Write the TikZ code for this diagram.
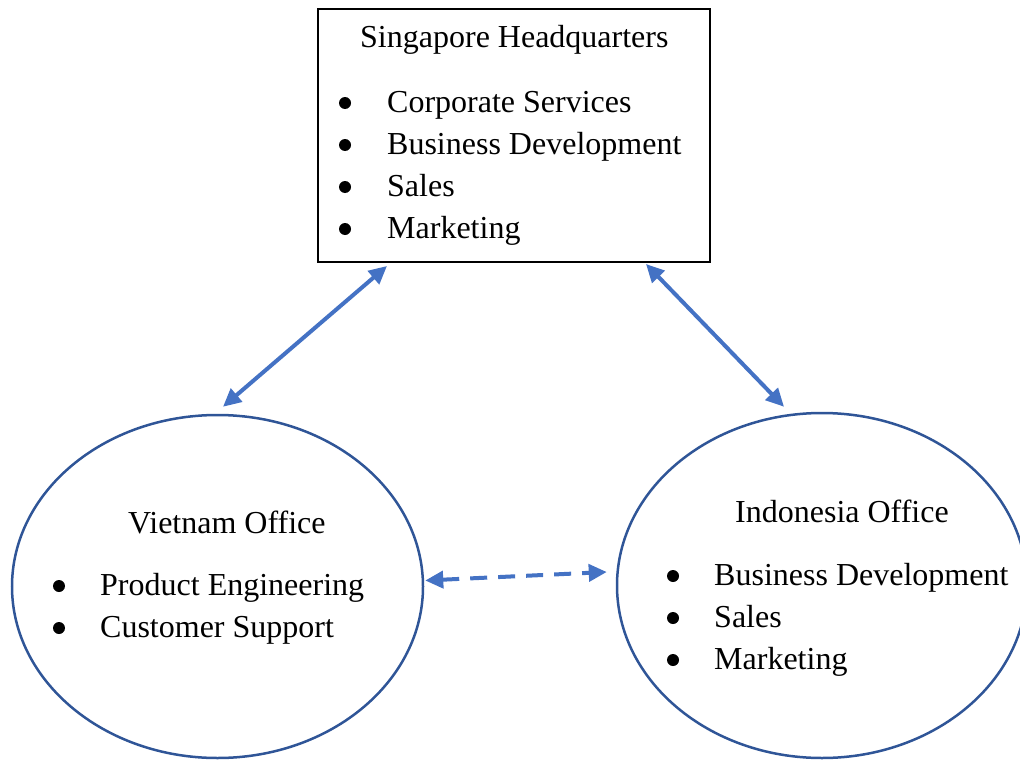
\documentclass[tikz,border=0pt]{standalone}
\usepackage{fontspec}
\setmainfont{Liberation Serif}
\usetikzlibrary{arrows.meta,shapes.geometric}
\definecolor{arrowblue}{HTML}{4472C4}
\definecolor{ellblue}{HTML}{2F5597}
\begin{document}
\begin{tikzpicture}[x=1pt,y=-1pt,
  txt/.style={anchor=base west,inner sep=0pt,font=\fontsize{32}{38}\selectfont},
  bul/.style={circle,fill=black,inner sep=0pt,minimum size=12pt},
  office/.style={ellipse,draw=ellblue,line width=2.5pt,inner sep=0pt},
  link/.style={arrowblue,line width=4pt,{Triangle[length=18pt,width=17pt]}-{Triangle[length=18pt,width=17pt]}},
  dlink/.style={link,dash pattern=on 17pt off 11pt}]
\useasboundingbox (0,0) rectangle (1020,760);
% Headquarters box
\node[draw,line width=2pt,minimum width=392pt,minimum height=253pt,inner sep=0pt] (hq) at (514,135.5) {};
\node[txt] (hqt) at (360,48) {Singapore Headquarters};
\node[bul] (hb1) at (345,103) {};
\node[bul] (hb2) at (345,145) {};
\node[bul] (hb3) at (345,187) {};
\node[bul] (hb4) at (345,229) {};
\node[txt] (h1) at (387,112) {Corporate Services};
\node[txt] (h2) at (387,154) {Business Development};
\node[txt] (h3) at (387,196) {Sales};
\node[txt] (h4) at (387,238) {Marketing};
% Vietnam
\node[office,minimum width=411pt,minimum height=343pt] (vn) at (217.5,586.5) {};
\node[txt] (vnt) at (128,533) {Vietnam Office};
\node[bul] (vb1) at (59,586) {};
\node[bul] (vb2) at (59,628) {};
\node[txt] (v1) at (100,595) {Product Engineering};
\node[txt] (v2) at (100,637) {Customer Support};
% Indonesia
\node[office,minimum width=410pt,minimum height=345pt] (id) at (822,585.5) {};
\node[txt] (idt) at (735,522) {Indonesia Office};
\node[bul] (ib1) at (673,576) {};
\node[bul] (ib2) at (673,618) {};
\node[bul] (ib3) at (673,660) {};
\node[txt] (i1) at (714,585) {Business Development};
\node[txt] (i2) at (714,627) {Sales};
\node[txt] (i3) at (714,669) {Marketing};
% connectors
\draw[link] ([xshift=70pt,yshift=-3pt]hq.south west) -- ([xshift=5.5pt,yshift=7pt]vn.north);
\draw[link] ([xshift=329pt,yshift=-1pt]hq.south west) -- ([xshift=-38pt,yshift=5pt]id.north);
\draw[dlink] ([xshift=1pt,yshift=6pt]vn.east) -- ([xshift=-9pt,yshift=13.5pt]id.west);
\end{tikzpicture}
\end{document}
